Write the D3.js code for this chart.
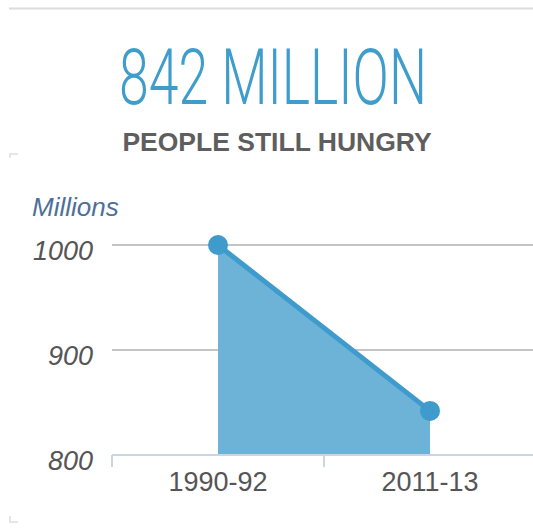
<!DOCTYPE html>
<html>
<head>
<meta charset="utf-8">
<script src="https://cdn.jsdelivr.net/npm/d3@7"></script>
<style>
  html, body { margin: 0; padding: 0; background: #fff; }
  svg { display: block; }
</style>
</head>
<body>
<svg id="chart" width="533" height="531"></svg>
<script>
const categories = ["1990-92", "2011-13"];
const values = [1000, 842];
const yTicks = [800, 900, 1000];
const headline = "842 MILLION";
const subhead = "PEOPLE STILL HUNGRY";
const unitLabel = "Millions";

const svg = d3.select("#chart");
const W = 533, H = 531;

// top rule
svg.append("line").attr("x1", 9).attr("x2", W).attr("y1", 8.5).attr("y2", 8.5)
  .attr("stroke", "#dcdcdc").attr("stroke-width", 2);

// small corner marks
svg.append("path").attr("d", "M9,153 L18,153 L18,155 L11,155 L11,158 L9,158 Z").attr("fill", "#e6e6e6");
svg.append("path").attr("d", "M9,516 L11,516 L11,521 L18,521 L18,523 L9,523 Z").attr("fill", "#e6e6e6");

// headline (condensed by horizontal scaling)
const hl = svg.append("text").attr("x", 0).attr("y", 0)
  .attr("font-family", "Roboto, 'Open Sans', sans-serif").attr("font-weight", 300)
  .attr("font-size", 78).attr("fill", "#3f9dcc").text(headline);
const natural = hl.node().getComputedTextLength();
const targetW = 308;
hl.attr("transform", `translate(119,104) scale(${targetW / natural},1)`);

svg.append("text").attr("x", 277).attr("y", 151).attr("text-anchor", "middle")
  .attr("font-family", "'Liberation Sans', Arial, sans-serif").attr("font-weight", "bold")
  .attr("font-size", 26.5).attr("fill", "#5e5e5e").text(subhead);

svg.append("text").attr("x", 32).attr("y", 215.5)
  .attr("font-family", "'Liberation Sans', Arial, sans-serif").attr("font-style", "italic")
  .attr("font-size", 26).attr("fill", "#4d6f98").text(unitLabel);

// scales
const x = d3.scaleBand().domain(categories).range([112, 536]);
const y = d3.scaleLinear().domain([800, 1000]).range([455, 245]);
const cx = d => x(d) + x.bandwidth() / 2;

// gridlines
svg.append("g").selectAll("line").data(yTicks.filter(t => t !== 800)).join("line")
  .attr("x1", 112).attr("x2", W).attr("y1", d => y(d)).attr("y2", d => y(d))
  .attr("stroke", "#c4c4c4").attr("stroke-width", 2);

// y labels
svg.append("g").selectAll("text").data(yTicks).join("text")
  .attr("x", 93).attr("y", d => y(d) + 15).attr("text-anchor", "end")
  .attr("font-family", "'Liberation Sans', Arial, sans-serif").attr("font-style", "italic")
  .attr("font-size", 27).attr("fill", "#555").text(d => d);

// area
const data = categories.map((c, i) => ({c, v: values[i]}));
const area = d3.area().x(d => cx(d.c)).y0(y(800)).y1(d => y(d.v));
svg.append("path").datum(data).attr("d", area).attr("fill", "#6cb3d7");

// x axis
const axisG = svg.append("g");
axisG.append("line").attr("x1", 112).attr("x2", W).attr("y1", y(800)).attr("y2", y(800))
  .attr("stroke", "#c9d7e3").attr("stroke-width", 2);
axisG.selectAll("line.tick").data(categories).join("line").attr("class", "tick")
  .attr("x1", d => x(d)).attr("x2", d => x(d)).attr("y1", y(800)).attr("y2", 467)
  .attr("stroke", "#c9d7e3").attr("stroke-width", 2);
axisG.selectAll("text").data(categories).join("text")
  .attr("x", d => cx(d)).attr("y", 491).attr("text-anchor", "middle")
  .attr("font-family", "'Liberation Sans', Arial, sans-serif")
  .attr("font-size", 27).attr("fill", "#555").text(d => d);

// line
const line = d3.line().x(d => cx(d.c)).y(d => y(d.v));
svg.append("path").datum(data).attr("d", line).attr("fill", "none")
  .attr("stroke", "#3e9bcc").attr("stroke-width", 5);

svg.append("g").selectAll("circle").data(data).join("circle")
  .attr("cx", d => cx(d.c)).attr("cy", d => y(d.v)).attr("r", 10)
  .attr("fill", "#3e9bcc");
</script>
</body>
</html>
